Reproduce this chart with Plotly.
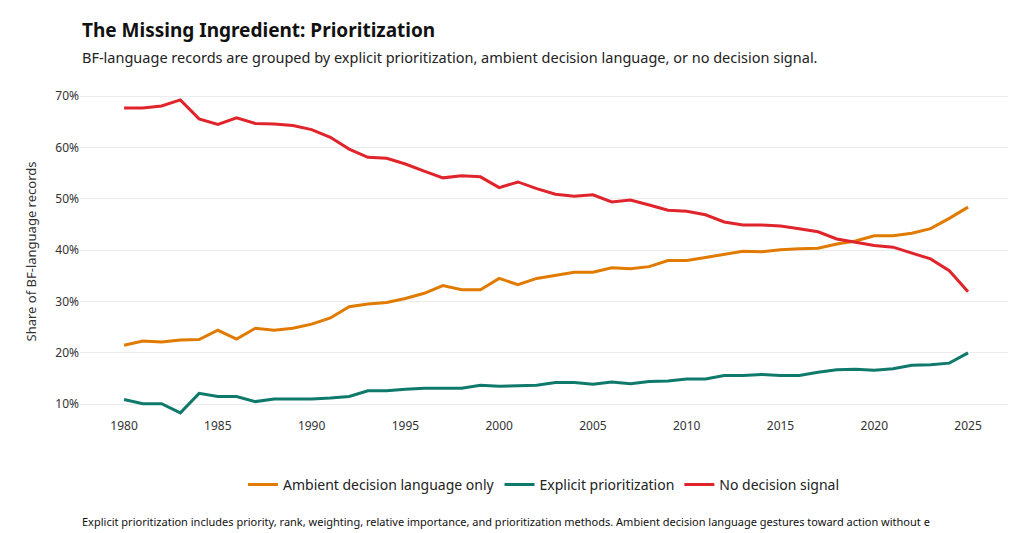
import plotly.graph_objects as go

years = list(range(1980, 2026))

ambient = [21.5, 22.3, 22.1, 22.5, 22.6, 24.4, 22.7, 24.8, 24.4, 24.8,
           25.6, 26.8, 29.0, 29.5, 29.8, 30.6, 31.6, 33.1, 32.3, 32.3,
           34.5, 33.3, 34.5, 35.1, 35.7, 35.7, 36.6, 36.4, 36.8, 38.0,
           38.0, 38.6, 39.2, 39.8, 39.7, 40.1, 40.3, 40.4, 41.2, 41.8,
           42.8, 42.8, 43.3, 44.2, 46.2, 48.4]

explicit = [10.9, 10.1, 10.1, 8.3, 12.1, 11.5, 11.5, 10.5, 11.0, 11.0,
            11.0, 11.2, 11.5, 12.6, 12.6, 12.9, 13.1, 13.1, 13.1, 13.7,
            13.5, 13.6, 13.7, 14.2, 14.2, 13.9, 14.3, 14.0, 14.4, 14.5,
            14.9, 14.9, 15.6, 15.6, 15.8, 15.6, 15.6, 16.2, 16.7, 16.8,
            16.6, 16.9, 17.6, 17.7, 18.0, 20.0]

no_signal = [67.7, 67.7, 68.1, 69.3, 65.6, 64.5, 65.8, 64.7, 64.6, 64.3,
             63.5, 62.0, 59.7, 58.1, 57.9, 56.8, 55.4, 54.1, 54.5, 54.3,
             52.2, 53.3, 52.0, 50.9, 50.5, 50.8, 49.4, 49.8, 48.8, 47.8,
             47.6, 46.9, 45.5, 44.9, 44.9, 44.7, 44.2, 43.6, 42.2, 41.5,
             40.9, 40.6, 39.5, 38.3, 36.0, 31.9]

y_ticks = [10, 20, 30, 40, 50, 60, 70]
y_labels = [f"{v}%" for v in y_ticks]

series = [
    ("Ambient decision language only", ambient, "#E07B00"),
    ("Explicit prioritization", explicit, "#0F7A6C"),
    ("No decision signal", no_signal, "#E0242B"),
]

fig = go.Figure()
for name, vals, color in series:
    fig.add_trace(go.Scatter(
        x=years, y=vals, name=name, mode="lines",
        line=dict(color=color, width=3)
    ))

fig.update_layout(
    width=1024, height=533,
    template="plotly_white",
    font=dict(family="Noto Sans", size=12, color="#333"),
    margin=dict(l=72, r=24, t=78, b=124),
    legend=dict(orientation="h", x=0.5, xanchor="center", y=-0.205, yanchor="middle",
                font=dict(size=14, color="#222")),
    showlegend=True,
)
fig.update_xaxes(tickvals=list(range(1980, 2030, 5)), range=[1977.65, 2027.13],
                 showgrid=False, ticks="", zeroline=False)
fig.update_yaxes(title_text="Share of BF-language records", title_font=dict(size=13),
                 range=[7.5, 72], tickvals=y_ticks, ticktext=y_labels,
                 gridcolor="#ececec", zeroline=False)

fig.add_annotation(
    text="<b>The Missing Ingredient: Prioritization</b>",
    xref="paper", yref="paper", x=0.0, y=(409 - 22) / 331, xanchor="left", yanchor="middle",
    showarrow=False, font=dict(size=19, color="#111"),
)
fig.add_annotation(
    text="BF-language records are grouped by explicit prioritization, "
         "ambient decision language, or no decision signal.",
    xref="paper", yref="paper", x=0.0, y=(409 - 49) / 331, xanchor="left", yanchor="middle",
    showarrow=False, font=dict(size=14.5, color="#222"),
)
fig.add_annotation(
    text="Explicit prioritization includes priority, rank, weighting, relative importance, and prioritization methods. "
         "Ambient decision language gestures toward action without e",
    xref="paper", yref="paper", x=0.0, y=(409 - 513) / 331, xanchor="left", yanchor="middle",
    showarrow=False, align="left", font=dict(size=11, color="#111"),
)

fig.write_html("out.html")
